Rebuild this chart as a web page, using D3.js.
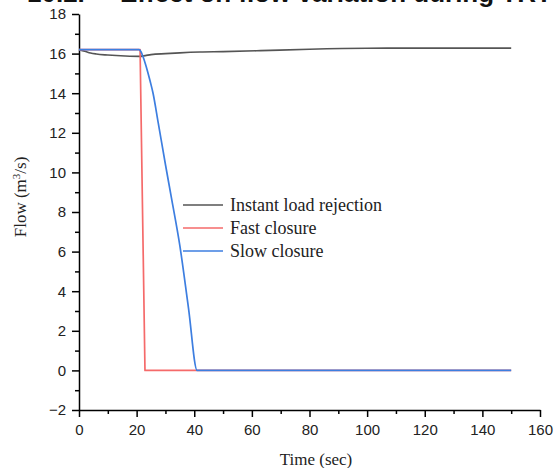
<!DOCTYPE html>
<html>
<head>
<meta charset="utf-8">
<script src="https://cdn.jsdelivr.net/npm/d3@7"></script>
<style>
  html, body { margin: 0; padding: 0; background: #fff; }
  svg { display: block; }
</style>
</head>
<body>
<svg id="chart" width="560" height="468"></svg>
<script>
// Flow variation during turbine trip — three closure scenarios
const seriesNames = ["Instant load rejection", "Fast closure", "Slow closure"];
const seriesColors = ["#555555", "#f56a6a", "#3d7ee0"];

// time (sec), flow (m³/s)
const instantT = [0, 2, 4, 6, 10, 16, 21, 23, 25, 30, 35, 42, 50, 63, 80, 100, 120, 150];
const instantQ = [16.2, 16.12, 16.03, 15.98, 15.93, 15.88, 15.86, 15.9, 15.95, 16.0, 16.04, 16.08, 16.1, 16.15, 16.22, 16.27, 16.28, 16.28];

const fastT = [0, 21.2, 22.9, 41, 150];
const fastQ = [16.2, 16.2, 0, 0, 0];

const slowT = [0, 20.8, 21.5, 22.2, 23, 23.8, 24.7, 25.7, 27.5, 30, 32.1, 35, 38, 41, 150];
const slowQ = [16.2, 16.2, 16.1, 15.85, 15.5, 15.1, 14.6, 14.0, 12.5, 10.4, 8.7, 6.3, 3.15, 0, 0];

const xMajor = [0, 20, 40, 60, 80, 100, 120, 140, 160];
const yMajor = [-2, 0, 2, 4, 6, 8, 10, 12, 14, 16, 18];

const svg = d3.select("#chart");

const x = d3.scaleLinear().domain([0, 160]).range([79, 540]);
const y = d3.scaleLinear().domain([-2, 18]).range([410, 14]);

// heading strip (mostly above the visible area)
const heading = svg.append("text")
  .attr("y", 2)
  .attr("font-family", "Liberation Sans, Arial, sans-serif")
  .attr("font-weight", "bold").attr("font-size", 26)
  .attr("fill", "#111");
heading.append("tspan").attr("x", 27).text("10.2.");
heading.append("tspan").attr("x", 120).text("Effect on flow variation during TRT");

// minor ticks
const xMinor = d3.range(10, 160, 20);
const yMinor = d3.range(-1, 18, 2);

svg.append("g")
  .attr("transform", `translate(0,${y(-2)})`)
  .call(d3.axisBottom(x).tickValues(xMinor).tickSize(4).tickFormat(""))
  .call(g => g.select(".domain").remove())
  .call(g => g.selectAll("line").attr("stroke", "#000").attr("stroke-width", 1.5));

svg.append("g")
  .attr("transform", `translate(${x(0)},0)`)
  .call(d3.axisLeft(y).tickValues(yMinor).tickSize(4).tickFormat(""))
  .call(g => g.select(".domain").remove())
  .call(g => g.selectAll("line").attr("stroke", "#000").attr("stroke-width", 1.5));

// major axes
const xAxis = svg.append("g")
  .attr("transform", `translate(0,${y(-2)})`)
  .call(d3.axisBottom(x).tickValues(xMajor).tickSize(7).tickSizeOuter(0).tickPadding(7).tickFormat(d3.format("d")));
const yAxis = svg.append("g")
  .attr("transform", `translate(${x(0)},0)`)
  .call(d3.axisLeft(y).tickValues(yMajor).tickSize(7).tickSizeOuter(0).tickPadding(6).tickFormat(d3.format("d")));

[xAxis, yAxis].forEach(g => {
  g.select(".domain").attr("stroke", "#000").attr("stroke-width", 1.5);
  g.selectAll(".tick line").attr("stroke", "#000").attr("stroke-width", 1.5);
  g.selectAll(".tick text")
    .attr("font-family", "Liberation Sans, Arial, sans-serif")
    .attr("font-size", 15)
    .attr("fill", "#222");
});

// axis titles
svg.append("text")
  .attr("x", 316).attr("y", 465)
  .attr("text-anchor", "middle")
  .attr("font-family", "Liberation Serif, Times New Roman, serif")
  .attr("font-size", 17).attr("fill", "#222")
  .text("Time (sec)");

const yTitle = svg.append("text")
  .attr("transform", "translate(26,197) rotate(-90)")
  .attr("text-anchor", "middle")
  .attr("font-family", "Liberation Serif, Times New Roman, serif")
  .attr("font-size", 17).attr("fill", "#222");
yTitle.append("tspan").text("Flow (m");
yTitle.append("tspan").attr("baseline-shift", "super").attr("font-size", 11).text("3");
yTitle.append("tspan").text("/s)");

// series lines
const line = d3.line().x(d => x(d[0])).y(d => y(d[1]));
const series = [
  d3.zip(instantT, instantQ),
  d3.zip(fastT, fastQ),
  d3.zip(slowT, slowQ)
];
series.forEach((pts, i) => {
  svg.append("path")
    .datum(pts)
    .attr("fill", "none")
    .attr("stroke", seriesColors[i])
    .attr("stroke-width", 1.7)
    .attr("stroke-linejoin", "round")
    .attr("d", line.curve(i === 1 ? d3.curveLinear : d3.curveMonotoneX));
});

// legend
const legend = svg.append("g");
seriesNames.forEach((name, i) => {
  const ly = 205 + i * 23;
  legend.append("line")
    .attr("x1", 183).attr("x2", 223)
    .attr("y1", ly).attr("y2", ly)
    .attr("stroke", seriesColors[i]).attr("stroke-width", 1.7);
  legend.append("text")
    .attr("x", 230).attr("y", ly + 6)
    .attr("font-family", "Liberation Serif, Times New Roman, serif")
    .attr("font-size", 18).attr("fill", "#222")
    .text(name);
});
</script>
</body>
</html>
